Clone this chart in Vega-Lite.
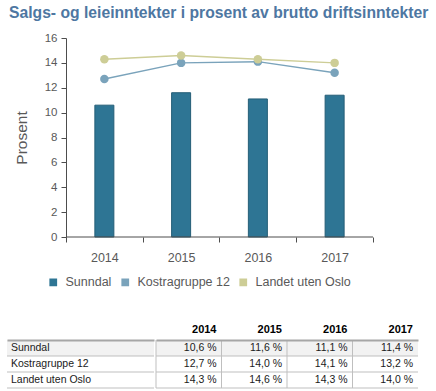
{
  "$schema": "https://vega.github.io/schema/vega-lite/v6.json",
  "padding": {"left": 6, "top": 5, "right": 0, "bottom": 0},
  "config": {"view": {"stroke": null}, "font": "Liberation Sans"},
  "datasets": {
    "d": [
      {"serie": "Sunndal", "year": "2014", "value": 10.6},
      {"serie": "Sunndal", "year": "2015", "value": 11.6},
      {"serie": "Sunndal", "year": "2016", "value": 11.1},
      {"serie": "Sunndal", "year": "2017", "value": 11.4},
      {"serie": "Kostragruppe 12", "year": "2014", "value": 12.7},
      {"serie": "Kostragruppe 12", "year": "2015", "value": 14.0},
      {"serie": "Kostragruppe 12", "year": "2016", "value": 14.1},
      {"serie": "Kostragruppe 12", "year": "2017", "value": 13.2},
      {"serie": "Landet uten Oslo", "year": "2014", "value": 14.3},
      {"serie": "Landet uten Oslo", "year": "2015", "value": 14.6},
      {"serie": "Landet uten Oslo", "year": "2016", "value": 14.3},
      {"serie": "Landet uten Oslo", "year": "2017", "value": 14.0}
    ]
  },
  "spacing": 59,
  "vconcat": [
    {
      "title": {
        "text": "Salgs- og leieinntekter i prosent av brutto driftsinntekter",
        "anchor": "start",
        "fontSize": 15.7,
        "fontWeight": "bold",
        "color": "#4e77a2",
        "dx": 2,
        "offset": 10
      },
      "width": 366,
      "height": 199,
      "data": {"name": "d"},
      "encoding": {
        "x": {
          "field": "year", "type": "nominal",
          "scale": {"paddingInner": 0, "paddingOuter": 0.38436, "align": 1},
          "axis": {
            "title": null, "labelAngle": 0, "tickBand": "extent", "domain": false,
            "tickSize": 5, "labelPadding": 9, "labelFontSize": 12.5, "labelColor": "#595959",
            "tickColor": "#4d4d4d"
          }
        },
        "y": {
          "field": "value", "type": "quantitative",
          "scale": {"domain": [0, 16]},
          "axis": {
            "title": "Prosent", "values": [0, 2, 4, 6, 8, 10, 12, 14, 16], "grid": false, "labelOverlap": false,
            "offset": -59,
            "tickSize": 5, "labelPadding": 4, "labelFontSize": 11.5, "labelColor": "#595959",
            "titleFontSize": 15.5, "titleFontWeight": "normal", "titleColor": "#595959", "titlePadding": 15,
            "domainColor": "#4d4d4d", "tickColor": "#4d4d4d"
          }
        }
      },
      "layer": [
        {
          "transform": [{"filter": "datum.serie === 'Sunndal'"}],
          "mark": {"type": "bar", "size": 19, "stroke": "#245e77", "strokeWidth": 1},
          "encoding": {
            "color": {
              "field": "serie", "type": "nominal",
              "scale": {
                "domain": ["Sunndal", "Kostragruppe 12", "Landet uten Oslo"],
                "range": ["#2e7594", "#7aa3bb", "#cdcd96"]
              },
              "legend": {
                "title": null, "orient": "none", "direction": "horizontal",
                "legendX": 40, "legendY": 238, "padding": 0,
                "symbolType": "square", "symbolSize": 60, "symbolStrokeWidth": 0,
                "labelFontSize": 12.5, "labelColor": "#595959", "labelOffset": 6, "columnPadding": 7
              }
            }
          }
        },
        {
          "transform": [{"filter": "datum.serie !== 'Sunndal'"}],
          "mark": {"type": "line", "strokeWidth": 1.5, "point": {"filled": true, "size": 72, "opacity": 1}},
          "encoding": {
            "color": {"field": "serie", "type": "nominal", "legend": null}
          }
        },
        {
          "transform": [{"filter": "datum.serie === 'Sunndal' && datum.year === '2014'"}],
          "mark": {"type": "rule", "color": "#4d4d4d", "strokeWidth": 1},
          "encoding": {
            "x": {"datum": "2014", "type": "nominal", "bandPosition": 0},
            "x2": {"datum": "2017", "bandPosition": 1},
            "y": {"datum": 0, "type": "quantitative"}
          }
        }
      ]
    },
    {
      "spacing": 0,
      "data": {"name": "d"},
      "hconcat": [
        {
          "width": 147,
          "height": 48,
          "layer": [
            {
              "transform": [{"filter": "datum.serie === 'Sunndal' && datum.year === '2014'"}],
              "mark": {"type": "rect", "fill": "#f2f2f2"},
              "encoding": {
                "x": {
                  "datum": "x", "type": "nominal",
                  "scale": {"paddingInner": 0, "paddingOuter": 0},
                  "axis": {
                    "orient": "top", "title": null, "ticks": false, "labelColor": "#ffffff",
                    "labelFontSize": 11, "labelFontWeight": "bold", "labelPadding": 6,
                    "domainColor": "#a6a6a6", "domainWidth": 2
                  }
                },
                "y": {
                  "field": "serie", "type": "nominal",
                  "sort": ["Sunndal", "Kostragruppe 12", "Landet uten Oslo"],
                  "scale": {"paddingInner": 0, "paddingOuter": 0},
                  "axis": null
                }
              }
            },
            {
              "transform": [{"filter": "datum.year === '2014'"}],
              "mark": {"type": "rule", "color": "#bfbfbf", "strokeWidth": 1},
              "encoding": {
                "y": {"field": "serie", "type": "nominal", "bandPosition": 1, "sort": ["Sunndal", "Kostragruppe 12", "Landet uten Oslo"]}
              }
            },
            {
              "transform": [{"filter": "datum.year === '2014'"}],
              "mark": {"type": "text", "align": "left", "dx": 4, "fontSize": 10.5, "color": "#1a1a1a"},
              "encoding": {
                "x": {"datum": "x", "type": "nominal", "bandPosition": 0},
                "y": {"field": "serie", "type": "nominal", "sort": ["Sunndal", "Kostragruppe 12", "Landet uten Oslo"]},
                "text": {"field": "serie"}
              }
            }
          ]
        },
        {
          "width": 262,
          "height": 48,
          "transform": [{"calculate": "replace(format(datum.value, '.1f'), '.', ',') + ' %'", "as": "txt"}],
          "layer": [
            {
              "transform": [{"filter": "datum.serie === 'Sunndal'"}],
              "mark": {"type": "rect", "fill": "#f2f2f2"},
              "encoding": {
                "x": {
                  "field": "year", "type": "nominal",
                  "scale": {"paddingInner": 0, "paddingOuter": 0},
                  "axis": {
                    "orient": "top", "title": null, "ticks": false, "labelAngle": 0,
                    "labelAlign": "right", "labelOffset": 27.75,
                    "labelColor": "#000000", "labelFontSize": 11, "labelFontWeight": "bold", "labelPadding": 6,
                    "domainColor": "#a6a6a6", "domainWidth": 2
                  }
                },
                "y": {
                  "field": "serie", "type": "nominal",
                  "sort": ["Sunndal", "Kostragruppe 12", "Landet uten Oslo"],
                  "scale": {"paddingInner": 0, "paddingOuter": 0},
                  "axis": null
                }
              }
            },
            {
              "transform": [{"filter": "datum.year === '2014'"}],
              "mark": {"type": "rule", "color": "#bfbfbf", "strokeWidth": 1},
              "encoding": {
                "y": {"field": "serie", "type": "nominal", "bandPosition": 1, "sort": ["Sunndal", "Kostragruppe 12", "Landet uten Oslo"]}
              }
            },
            {
              "transform": [{"filter": "datum.serie === 'Sunndal'"}],
              "mark": {"type": "rule", "color": "#bfbfbf", "strokeWidth": 1},
              "encoding": {
                "x": {"field": "year", "type": "nominal", "bandPosition": 0}
              }
            },
            {
              "mark": {"type": "text", "align": "right", "dx": -5, "fontSize": 10.5, "color": "#1a1a1a"},
              "encoding": {
                "x": {"field": "year", "type": "nominal", "bandPosition": 1},
                "y": {"field": "serie", "type": "nominal", "sort": ["Sunndal", "Kostragruppe 12", "Landet uten Oslo"]},
                "text": {"field": "txt"}
              }
            }
          ]
        }
      ]
    }
  ]
}
